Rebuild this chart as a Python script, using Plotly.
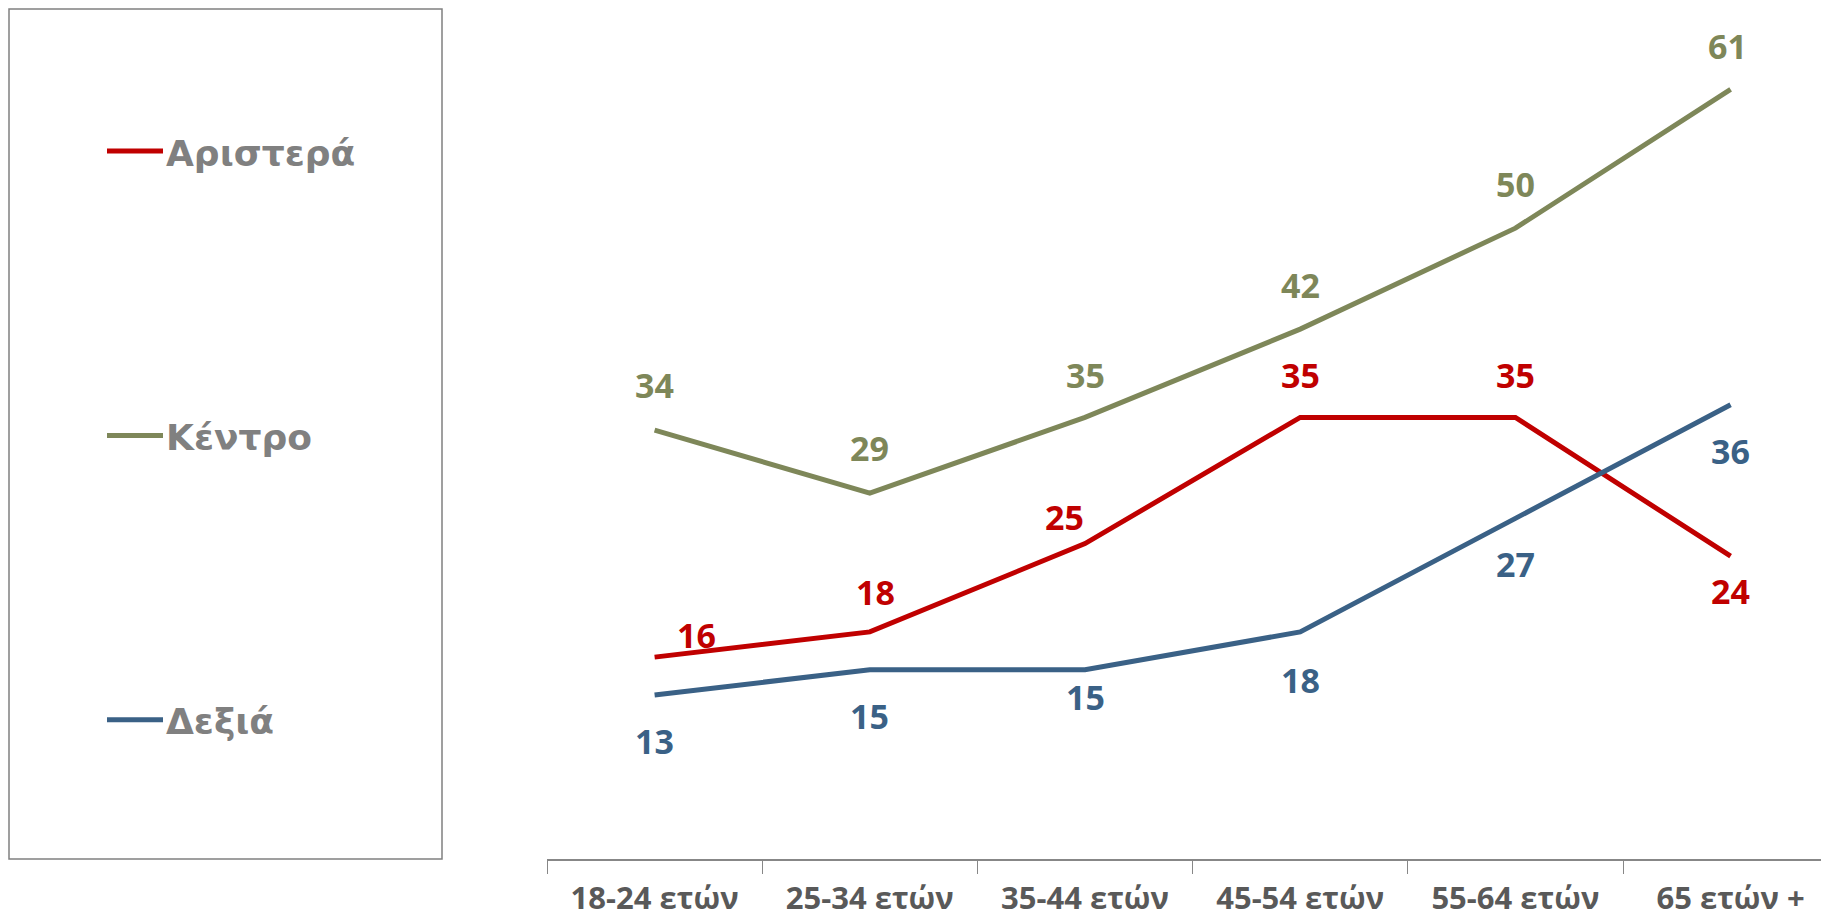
import plotly.graph_objects as go

categories = ["18-24 ετών", "25-34 ετών", "35-44 ετών", "45-54 ετών", "55-64 ετών", "65 ετών +"]
series_names = ["Αριστερά", "Κέντρο", "Δεξιά"]
aristera = [16, 18, 25, 35, 35, 24]
kentro = [34, 29, 35, 42, 50, 61]
dexia = [13, 15, 15, 18, 27, 36]

RED = "#C00000"
OLIVE = "#7E8759"
BLUE = "#3A6186"
GREY = "#808080"
DARK = "#595959"

W, H = 1821, 918
L, B = 547, 54
PLOT_W, PLOT_H = W - L, H - B

# label offsets (px): (dx, dy) per point, dy positive = up
label_off = {
    "Αριστερά": [(42, 22), (6, 40), (-21, 27), (0, 42), (0, 42), (0, -35)],
    "Κέντρο": [(0, 45), (0, 45), (0, 42), (0, 44), (0, 44), (-3, 43)],
    "Δεξιά": [(0, -46), (0, -46), (0, -27), (0, -48), (0, -46), (0, -46)],
}

fig = go.Figure()
data = {"Αριστερά": (aristera, RED), "Κέντρο": (kentro, OLIVE), "Δεξιά": (dexia, BLUE)}
for name in series_names:
    vals, col = data[name]
    fig.add_trace(go.Scatter(
        x=categories, y=vals, mode="lines", name=name,
        line=dict(color=col, width=5), showlegend=False,
    ))
    for c, v, (dx, dy) in zip(categories, vals, label_off[name]):
        fig.add_annotation(
            x=c, y=v, xref="x", yref="y", text=f"<b>{v}</b>", showarrow=False,
            xshift=dx, yshift=dy,
            font=dict(family="Open Sans, sans-serif", size=34, color=col),
        )


def px(x):
    return (x - L) / PLOT_W


def py(y):
    return (PLOT_H - y) / PLOT_H


# legend box and entries
fig.add_shape(type="rect", xref="paper", yref="paper",
              x0=px(9), x1=px(442), y0=py(864), y1=py(9),
              line=dict(color=GREY, width=1.5))
for name, yy in zip(series_names, [152, 438, 724]):
    col = data[name][1]
    fig.add_shape(type="line", xref="paper", yref="paper",
                  x0=px(107), x1=px(163), y0=py(yy), y1=py(yy),
                  line=dict(color=col, width=5))
    fig.add_annotation(x=px(164), y=py(yy + 2), xref="paper", yref="paper",
                       text=f"<b>{name}</b>", showarrow=False,
                       xanchor="left", yanchor="middle",
                       font=dict(family="DejaVu Sans, sans-serif", size=36, color=GREY))

fig.update_xaxes(
    type="category", range=[-0.5, 5.42],
    showline=True, linecolor="#878787", linewidth=2,
    ticks="outside", tickson="boundaries", ticklen=13, tickcolor="#878787", tickwidth=1,
    showgrid=False, zeroline=False, ticklabelstandoff=11,
    tickfont=dict(family="Open Sans, sans-serif", size=31, color=DARK, weight="bold"),
)
fig.update_yaxes(range=[0, PLOT_H / 12.69], visible=False, showgrid=False, zeroline=False)

fig.update_layout(
    width=W, height=H,
    paper_bgcolor="white", plot_bgcolor="white",
    margin=dict(l=L, r=0, t=0, b=B),
)

# drop the default body margin so the figure fills the window exactly
fig.write_html(
    "out.html",
    config={"displayModeBar": False},
    post_script="document.body.style.margin='0';document.body.style.overflow='hidden';",
)
